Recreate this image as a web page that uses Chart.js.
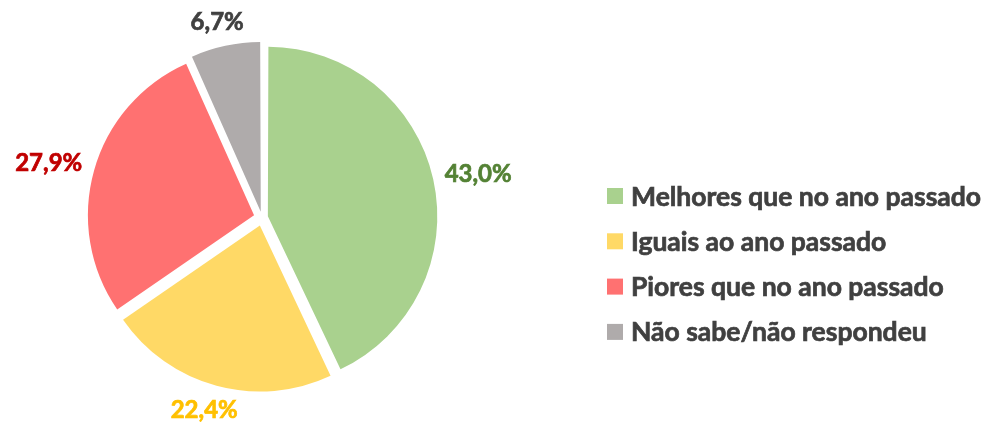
<!DOCTYPE html>
<html>
<head>
<meta charset="utf-8">
<script src="https://cdn.jsdelivr.net/npm/chart.js@4"></script>
<style>
  html, body { margin: 0; padding: 0; background: #ffffff; }
  #wrap { width: 987px; height: 427px; }
</style>
</head>
<body>
<div id="wrap"><canvas id="myChart" width="987" height="427"></canvas></div>
<script>
const categories = [
  "Melhores que no ano passado",
  "Iguais ao ano passado",
  "Piores que no ano passado",
  "Não sabe/não respondeu",
];
const values = [43.0, 22.4, 27.9, 6.7];
const sliceColors = ["#A9D18E", "#FFD966", "#FF7171", "#AFABAB"];
const labelColors = ["#548235", "#FFC000", "#C00000", "#404040"];
// wide slices get pushed further by Chart.js, so they get a smaller offset
const sliceOffsets = [24, 33, 33, 24];

const FONT = "Lato, 'Open Sans', sans-serif";

// draw bold text a little heavier, closer to the original look
function heavyText(ctx, text, x, y, color) {
  ctx.fillStyle = color;
  ctx.strokeStyle = color;
  ctx.lineWidth = 0.7;
  ctx.fillText(text, x, y);
  ctx.strokeText(text, x, y);
}

// Percent labels outside the slices
const outsideLabels = {
  id: "outsideLabels",
  afterDatasetsDraw(chart) {
    const ctx = chart.ctx;
    const arcs = chart.getDatasetMeta(0).data;
    ctx.save();
    ctx.font = "bold 24px " + FONT;
    ctx.textAlign = "center";
    ctx.textBaseline = "middle";
    arcs.forEach((arc, i) => {
      const p = arc.getProps(["x", "y", "startAngle", "endAngle", "outerRadius"], true);
      const mid = (p.startAngle + p.endAngle) / 2;
      const dx = Math.cos(mid);
      const dy = Math.sin(mid);
      const text = values[i].toFixed(1).replace(".", ",") + "%";
      const w = ctx.measureText(text).width;
      const h = 24;
      const r = p.outerRadius + 22;
      const x = p.x + dx * r + (dx * w) / 2;
      const y = p.y + dy * r + (dy * h) / 2;
      heavyText(ctx, text, x, y, labelColors[i]);
    });
    ctx.restore();
  },
};

// Legend on the right, drawn by hand so it can sit apart from the pie
const sideLegend = {
  id: "sideLegend",
  afterDraw(chart) {
    const ctx = chart.ctx;
    ctx.save();
    ctx.font = "bold 26.5px " + FONT;
    ctx.textAlign = "left";
    ctx.textBaseline = "middle";
    categories.forEach((name, i) => {
      const y = 196 + i * 45.3;
      ctx.fillStyle = sliceColors[i];
      ctx.fillRect(607, y - 8, 16, 16);
      heavyText(ctx, name, 631, y + 1, "#404040");
    });
    ctx.restore();
  },
};

const ctx = document.getElementById("myChart").getContext("2d");
const myChart = new Chart(ctx, {
  type: "pie",
  data: {
    labels: categories,
    datasets: [
      {
        data: values,
        backgroundColor: sliceColors,
        borderWidth: 0,
        offset: sliceOffsets,
        hoverOffset: 0,
      },
    ],
  },
  options: {
    responsive: false,
    animation: false,
    layout: {
      padding: { top: 35, bottom: 27, left: 0, right: 463 },
    },
    plugins: {
      legend: { display: false },
      tooltip: { enabled: false },
    },
  },
  plugins: [outsideLabels, sideLegend],
});
</script>
</body>
</html>
